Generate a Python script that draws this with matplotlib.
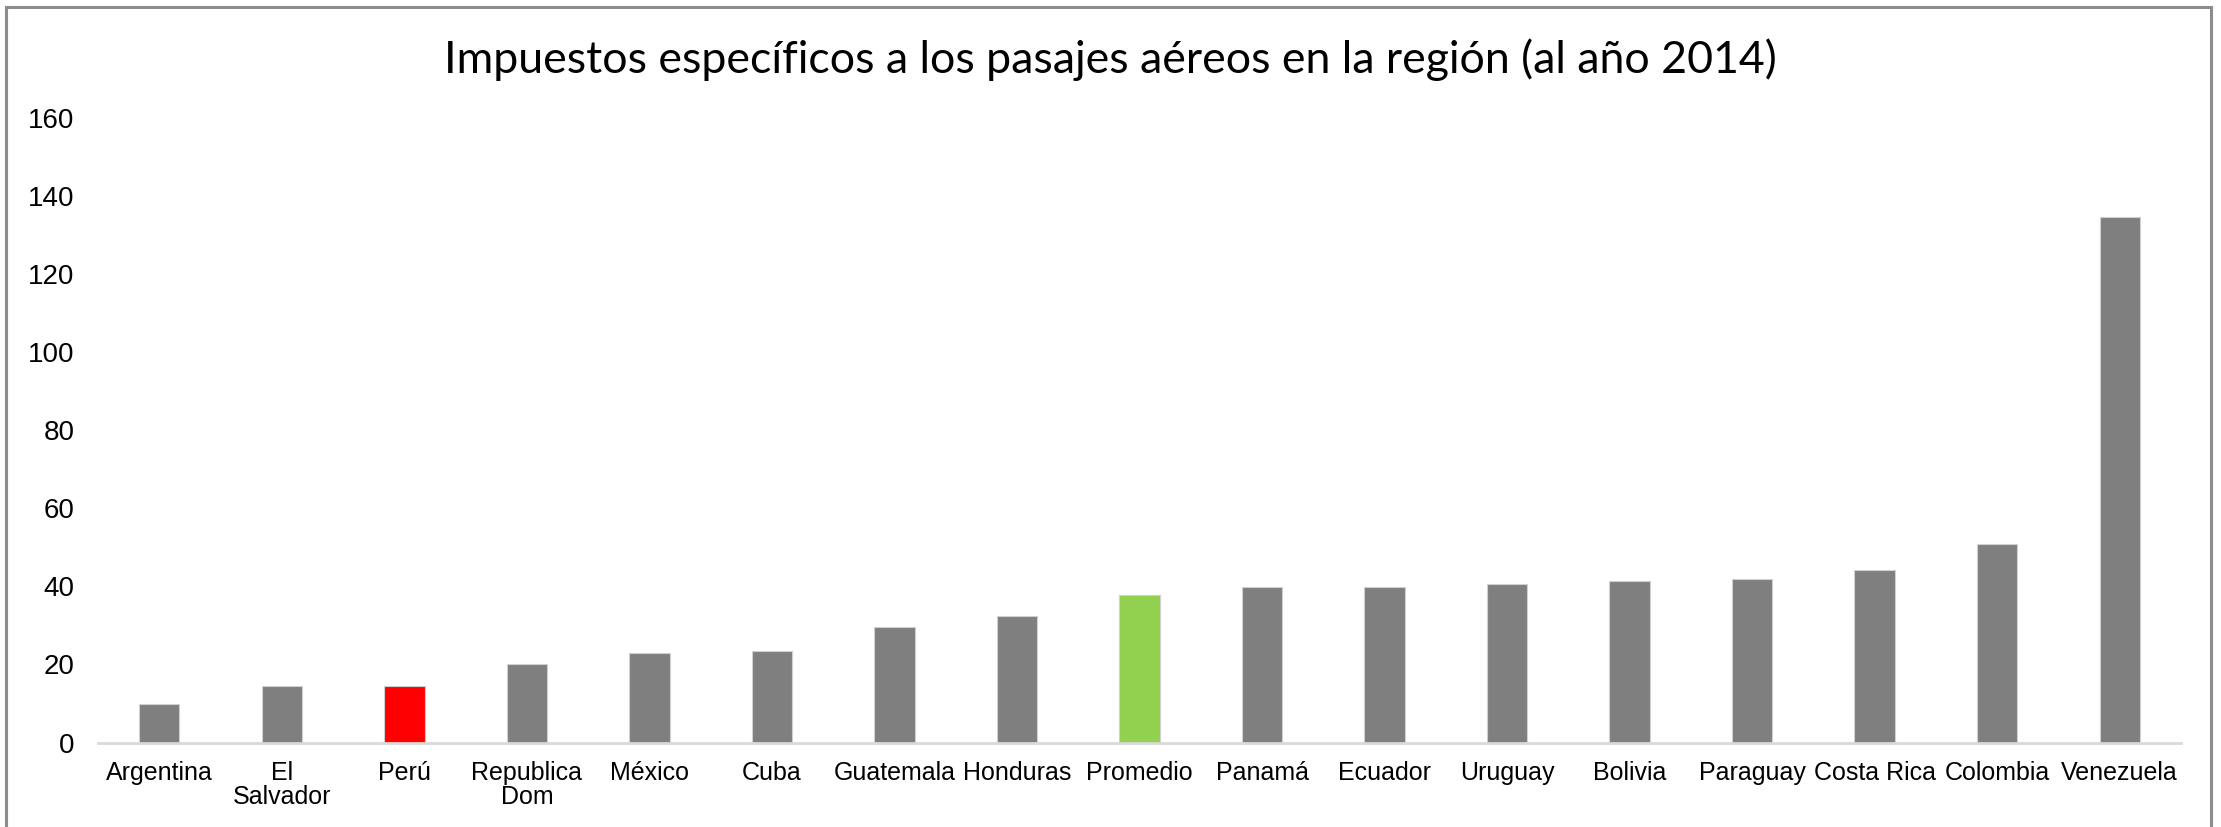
import matplotlib
matplotlib.use("Agg")
import matplotlib.pyplot as plt
from matplotlib.patches import Rectangle

categories = ["Argentina", "El\nSalvador", "Perú", "Republica\nDom", "México", "Cuba",
              "Guatemala", "Honduras", "Promedio", "Panamá", "Ecuador", "Uruguay",
              "Bolivia", "Paraguay", "Costa Rica", "Colombia", "Venezuela"]
values = [9.8, 14.6, 14.6, 20.0, 22.9, 23.5, 29.7, 32.4, 37.9, 39.9, 39.9, 40.6,
          41.4, 42.0, 44.1, 50.8, 134.5]
highlight = {"Perú": "#FF0000", "Promedio": "#92D050"}
yticks = [0, 20, 40, 60, 80, 100, 120, 140, 160]
title = "Impuestos específicos a los pasajes aéreos en la región (al año 2014)"

W, H, DPI = 2221, 827, 100
fig = plt.figure(figsize=(W / DPI, H / DPI), dpi=DPI)
fig.patch.set_facecolor("white")

left, right = 98 / W, 2181 / W
bottom, top = (H - 742.6) / H, (H - 117.6) / H
ax = fig.add_axes([left, bottom, right - left, top - bottom])

colors = [highlight.get(c, "#7F7F7F") for c in categories]
x = list(range(len(categories)))
ax.bar(x, values, width=0.33, color=colors, edgecolor="#D0D0D0", linewidth=0.8, zorder=2)
ax.set_xlim(-0.5, len(categories) - 0.5)
ax.set_ylim(0, 160)
ax.set_yticks(yticks)
ax.set_yticklabels([str(v) for v in yticks], fontsize=20, family="Liberation Sans")
ax.set_xticks(x)
ax.set_xticklabels(categories, fontsize=18, family="Liberation Sans", linespacing=1.0)
ax.tick_params(axis="y", length=0, pad=17)
ax.tick_params(axis="x", length=0, pad=13)
for s in ["top", "right", "left"]:
    ax.spines[s].set_visible(False)
ax.spines["bottom"].set_color("#D9D9D9")
ax.spines["bottom"].set_linewidth(2)

t = fig.text(0.5, (H - 60) / H, title, ha="center", va="center",
             fontsize=30, family="Lato", color="black")
# fit title width to ~1332 px
fig.canvas.draw()
r = fig.canvas.get_renderer()
wpx = t.get_window_extent(r).width
t.set_fontsize(30 * 1332 / wpx)

# outer frame
fig.patches.append(Rectangle((6 / W, -0.05), (2211 - 6) / W, (H - 7) / H + 0.05,
                             transform=fig.transFigure, fill=False,
                             edgecolor="#8C8C8C", linewidth=2.2))

fig.savefig("out.png", dpi=DPI, facecolor="white")
